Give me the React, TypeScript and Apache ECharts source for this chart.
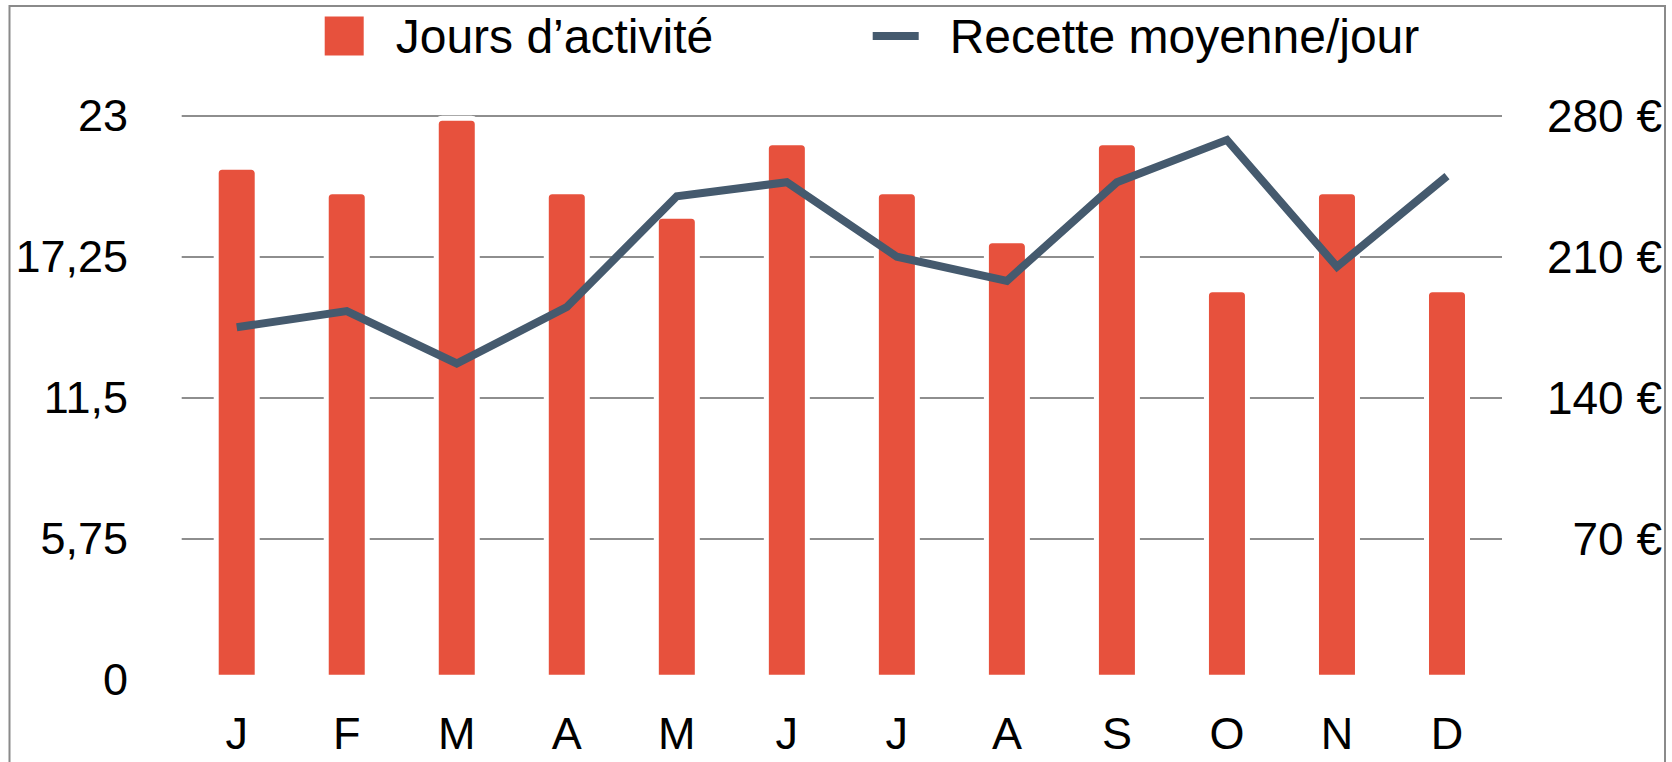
import React, { useEffect, useRef } from "react";
import * as echarts from "echarts";

const months = ["J", "F", "M", "A", "M", "J", "J", "A", "S", "O", "N", "D"];
const activeDays = [21, 20, 23, 20, 19, 22, 20, 18, 22, 16, 20, 16];
const avgRevenue = [175, 183, 157, 185, 240, 247, 210, 198, 247, 268, 205, 250];
const leftAxis = { min: 0, max: 23, interval: 5.75 };
const rightAxis = { min: 0, max: 280, interval: 70 };
const seriesNames = ["Jours d’activité", "Recette moyenne/jour"];

const BAR_COLOR = "#E7513D";
const LINE_COLOR = "#455A6E";
const FONT = "'Liberation Sans', Arial, Helvetica, sans-serif";

export default function App() {
  const ref = useRef<HTMLDivElement>(null);

  useEffect(() => {
    document.body.style.margin = "0";
    if (!ref.current) return;
    const chart = echarts.init(ref.current, null, { renderer: "svg" });
    chart.setOption({
      animation: false,
      backgroundColor: "#ffffff",
      textStyle: { fontFamily: FONT, color: "#000" },
      graphic: [
        {
          type: "rect",
          shape: { x: 9.5, y: 6, width: 1655.5, height: 800 },
          style: { fill: "none", stroke: "#8a8a8a", lineWidth: 2 },
          silent: true,
          z: 100,
        },
      ],
      legend: [
        {
          data: [{ name: seriesNames[0], icon: "rect" }],
          left: 322.7,
          top: 12,
          padding: 0,
          itemWidth: 41,
          itemHeight: 41,
          selectedMode: false,
          textStyle: { fontSize: 48, fontFamily: FONT, color: "#000", padding: [0, 0, 0, 26] },
        },
        {
          data: [{ name: seriesNames[1], icon: "rect" }],
          left: 872.7,
          top: 12,
          padding: 0,
          itemWidth: 46,
          itemHeight: 8,
          selectedMode: false,
          itemStyle: { borderWidth: 0, color: LINE_COLOR },
          textStyle: { fontSize: 48, fontFamily: FONT, color: "#000", padding: [0, 0, 0, 26] },
        },
      ],
      grid: { left: 181.7, right: 170, top: 115.7, bottom: 82.3, containLabel: false },
      xAxis: {
        type: "category",
        data: months,
        axisLine: { show: false },
        axisTick: { show: false },
        axisLabel: { fontSize: 45, lineHeight: 38, color: "#000", fontFamily: FONT, margin: 35 },
      },
      yAxis: [
        {
          type: "value",
          min: leftAxis.min,
          max: leftAxis.max,
          interval: leftAxis.interval,
          axisLine: { show: false },
          axisTick: { show: false },
          axisLabel: {
            fontSize: 45,
            color: "#000",
            fontFamily: FONT,
            margin: 53.7,
            formatter: (v: number) => String(v).replace(".", ","),
          },
          splitLine: { show: true, showMinLine: false, lineStyle: { color: "#8e8e8e", width: 2 } },
        },
        {
          type: "value",
          min: rightAxis.min,
          max: rightAxis.max,
          interval: rightAxis.interval,
          axisLine: { show: false },
          axisTick: { show: false },
          axisLabel: {
            fontSize: 46,
            color: "#000",
            fontFamily: FONT,
            align: "right",
            margin: 160,
            formatter: (v: number) => (v === 0 ? "" : v + " €"),
          },
          splitLine: { show: false },
        },
      ],
      series: [
        {
          name: seriesNames[0],
          type: "bar",
          data: activeDays,
          yAxisIndex: 0,
          barWidth: 46,
          itemStyle: {
            color: BAR_COLOR,
            borderColor: "#ffffff",
            borderWidth: 5,
            borderRadius: [6, 6, 0, 0],
          },
          emphasis: { disabled: true },
          z: 2,
        },
        {
          name: seriesNames[1],
          type: "line",
          data: avgRevenue,
          yAxisIndex: 1,
          symbol: "none",
          showSymbol: false,
          lineStyle: { color: LINE_COLOR, width: 8, join: "miter" },
          itemStyle: { color: LINE_COLOR },
          emphasis: { disabled: true },
          z: 3,
        },
      ],
    });
    return () => chart.dispose();
  }, []);

  return <div ref={ref} style={{ width: 1672, height: 762 }} />;
}
